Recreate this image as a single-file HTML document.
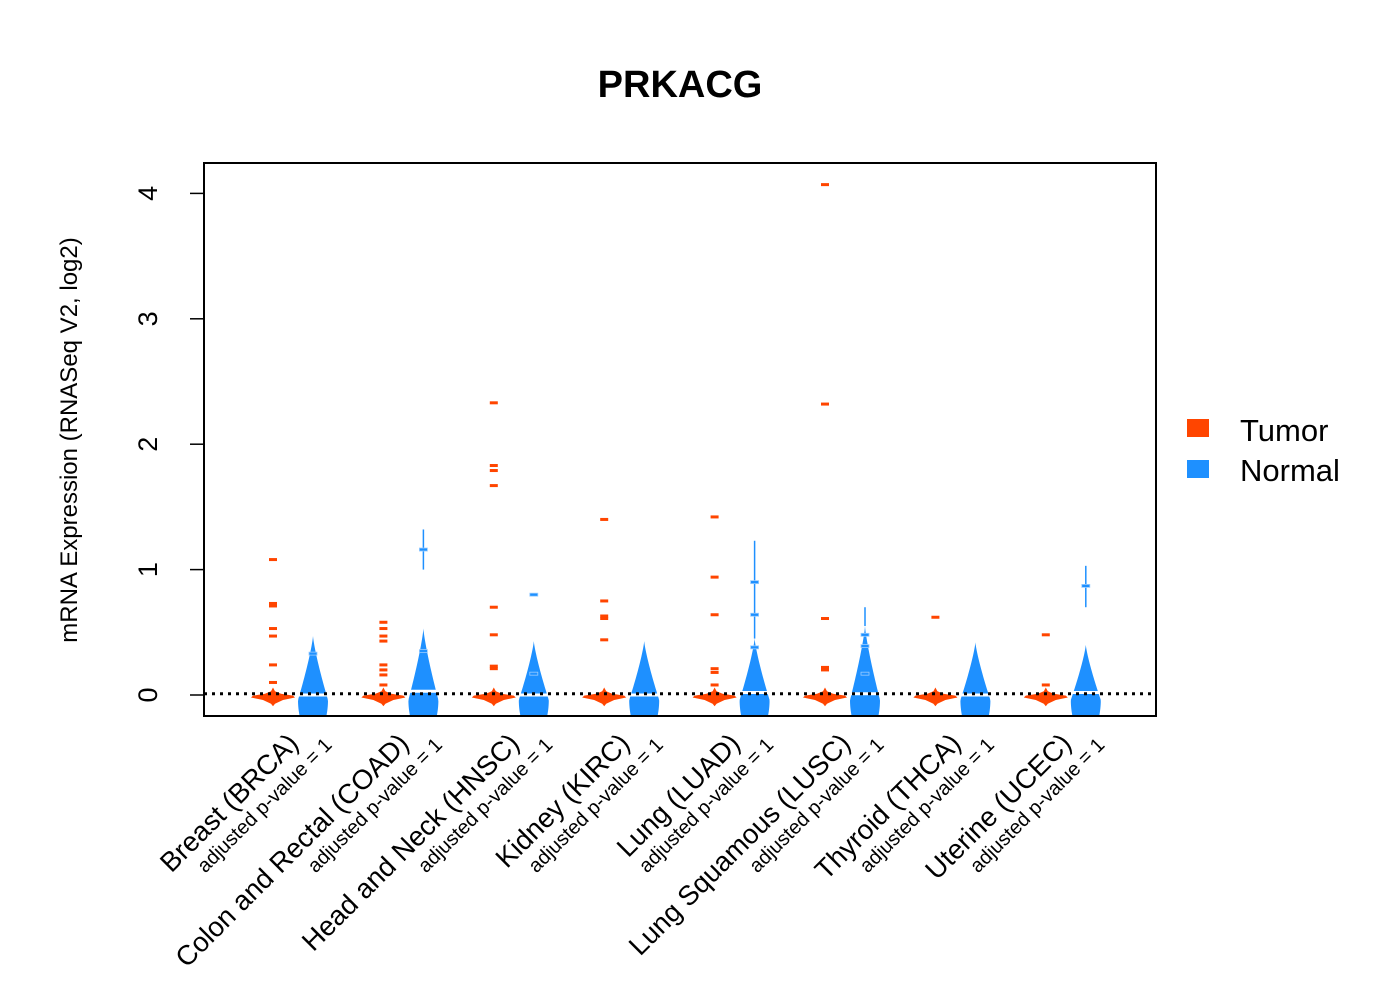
<!DOCTYPE html>
<html><head><meta charset="utf-8"><style>
body{margin:0;background:#fff;}
svg text{font-family:"Liberation Sans",Arial,sans-serif;}
</style></head><body>
<svg id="chart" width="1400" height="1000" xmlns="http://www.w3.org/2000/svg">
<defs><clipPath id="pc"><rect x="204" y="163" width="952" height="553"/></clipPath></defs>
<text x="680" y="97" font-size="38" font-weight="bold" text-anchor="middle">PRKACG</text>
<text transform="translate(77,440) rotate(-90)" font-size="24" text-anchor="middle">mRNA Expression (RNASeq V2, log2)</text>
<g id="plot" clip-path="url(#pc)"></g>
<g id="axes"></g>
<rect x="204" y="163" width="952" height="553" fill="none" stroke="#000" stroke-width="2"/>
<g>
<rect x="1187" y="419" width="22" height="18" fill="#FF4500"/>
<text x="1240" y="441" font-size="31">Tumor</text>
<rect x="1187" y="460" width="22" height="18" fill="#1E90FF"/>
<text x="1240" y="481" font-size="31">Normal</text>
</g>
</svg>
<script>
const categories=["Breast (BRCA)","Colon and Rectal (COAD)","Head and Neck (HNSC)","Kidney (KIRC)","Lung (LUAD)","Lung Squamous (LUSC)","Thyroid (THCA)","Uterine (UCEC)"];
const yTicks=[0,1,2,3,4];
const tumorOutliers=[[1.08,0.73,0.71,0.53,0.47,0.24,0.1],[0.58,0.53,0.47,0.43,0.24,0.2,0.16,0.08],[2.33,1.83,1.79,1.67,0.7,0.48,0.23,0.21],[1.4,0.75,0.63,0.61,0.44],[1.42,0.94,0.64,0.21,0.18,0.08],[4.07,2.32,0.61,0.22,0.2],[0.62],[0.48,0.08]];
const normalTop=[0.47,0.53,0.43,0.43,0.45,0.55,0.42,0.4];
const normalMedian=[0.0,0.03,0.0,0.0,0.02,0.01,0.0,0.02];
const normalPoints=[[0.33],[1.16,0.35],[0.8,0.17],[],[0.9,0.64,0.38],[0.48,0.39,0.17],[],[0.87]];
const normalWhiskerTop=[0.47,1.32,0.43,0.43,1.23,0.7,0.42,1.03];
const normalWhiskerLowOut=[null,1.0,null,null,null,null,null,0.7];
const y=v=>695-125.4*v;
const xT=i=>273+110.4*i, xN=i=>313+110.4*i;
const NS="http://www.w3.org/2000/svg";
function mk(tag,attrs,parent){const e=document.createElementNS(NS,tag);for(const k in attrs)e.setAttribute(k,attrs[k]);parent.appendChild(e);return e;}
const plot=document.getElementById('plot'),axes=document.getElementById('axes'),svg=document.getElementById('chart');
categories.forEach((c,i)=>{
  const xt=xT(i);
  const tp=mk('polygon',{points:`${xt},${y(0.06)} ${xt+2},${y(0.03)} ${xt+8},${y(0.01)} ${xt+20},${y(-0.005)} ${xt+22},${y(-0.02)} ${xt+10},${y(-0.04)} ${xt+2},${y(-0.07)} ${xt},${y(-0.09)} ${xt-2},${y(-0.07)} ${xt-10},${y(-0.04)} ${xt-22},${y(-0.02)} ${xt-20},${y(-0.005)} ${xt-8},${y(0.01)} ${xt-2},${y(0.03)}`,fill:'#FF4500'},plot);
  
  
  tumorOutliers[i].forEach(v=>{
    const r=mk('rect',{x:xt-4,y:y(v)-1.5,width:8,height:3,fill:'#FF4500'},plot);
    
    
  });
  const xn=xN(i),top=normalTop[i],mid=-0.04,bot=-0.3,W=15;
  let L=[],R=[];
  for(let k=0;k<=40;k++){const v=top-(top-bot)*k/40;let w;
    if(v>=mid){w=W*Math.pow((top-v)/(top-mid),1.25);} else {const g=(mid-v)/(bot-mid);w=W*(1-0.45*g*g);}
    L.push(`${xn-w},${y(v)}`);R.unshift(`${xn+w},${y(v)}`);}
  const np=mk('polygon',{points:L.concat(R).join(' '),fill:'#1E90FF'},plot);
  
  
  const wl=mk('line',{x1:xn,x2:xn,y1:y(top),y2:y(normalWhiskerLowOut[i]!==null?top:normalWhiskerTop[i]),stroke:'#1E90FF','stroke-width':1.5},plot);
  
  
  if(normalWhiskerLowOut[i]!==null){
    const ol=mk('line',{x1:xn,x2:xn,y1:y(normalWhiskerLowOut[i]),y2:y(normalWhiskerTop[i]),stroke:'#1E90FF','stroke-width':1.5},plot);
    
    
  }
  normalPoints[i].forEach(v=>{
    const r=mk('rect',{x:xn-4,y:y(v)-1.5,width:8,height:3,fill:'#1E90FF',stroke:'#9cf','stroke-width':0.8},plot);
    
    
  });
  const md=mk('rect',{x:xn-16,y:y(normalMedian[i])-1.5,width:32,height:3,fill:'#fff'},plot);
  
  
  const lx=xt+27, ly=745;
  const t1=mk('text',{transform:`translate(${lx},${ly}) rotate(-45)`,'font-size':27.5,'text-anchor':'end'},svg);
  t1.textContent=c;
  
  
  const t2=mk('text',{transform:`translate(${lx+33},${ly+1}) rotate(-45)`,'font-size':20,'text-anchor':'end'},svg);
  t2.textContent='adjusted p-value = 1';
  
  
});
const ref=mk('line',{x1:204,x2:1156,y1:y(0.01),y2:y(0.01),stroke:'#000','stroke-width':3,'stroke-dasharray':'3 5'},plot);


const ax=mk('line',{x1:204,x2:204,y1:y(0),y2:y(4),stroke:'#000','stroke-width':1.5},axes);


yTicks.forEach(t=>{
  const l=mk('line',{x1:190,x2:204,y1:y(t),y2:y(t),stroke:'#000','stroke-width':1.5},axes);
  
  
  const tx=mk('text',{transform:`translate(157,${y(t)}) rotate(-90)`,'font-size':27,'text-anchor':'middle'},axes);
  tx.textContent=t;
  
  
});
</script>
</body></html>
